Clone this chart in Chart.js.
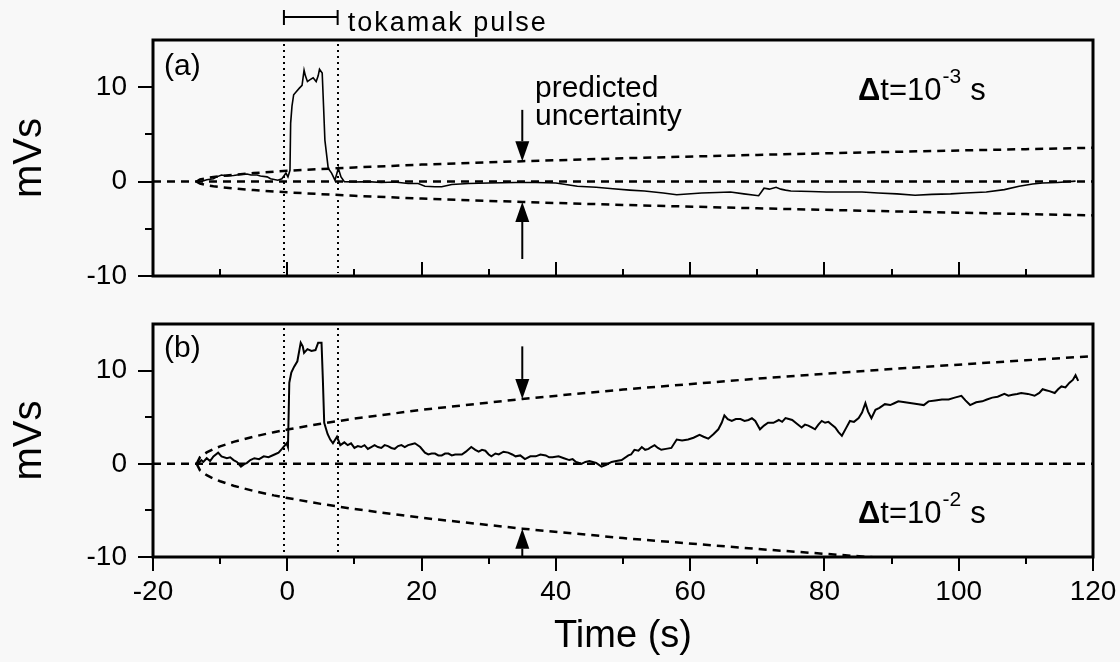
<!DOCTYPE html>
<html><head><meta charset="utf-8">
<script src="https://cdn.jsdelivr.net/npm/chart.js@4.4.0/dist/chart.umd.min.js"></script>
<style>
html,body{margin:0;padding:0;background:#f8f8f8;width:1120px;height:662px;overflow:hidden}
canvas{position:absolute;left:0}
#c1{top:0}#c2{top:300px}
</style></head>
<body>
<canvas id="c1" width="1120" height="300"></canvas>
<canvas id="c2" width="1120" height="362"></canvas>
<script>
// ---------------- data ----------------
const xTickValues = [-20, 0, 20, 40, 60, 80, 100, 120];
const yTickLabels = [-10, 0, 10];
const pulseStart = -0.5, pulseEnd = 7.5;

// panel (a): dt = 1e-3 s
const timeA = [-12.8,-12,-11,-10.5,-9.8,-9,-8,-7,-6,-5.4,
  -4.5,-4,-3,-2.5,-1.4,-0.8,-0.2,0.1,0.4,0.5,
  0.7,0.95,1.3,1.8,2.2,2.5,2.7,3.0,3.4,3.85,
  4.3,4.6,4.8,5.2,5.4,5.6,6.1,6.6,7.1,7.6,
  8.0,8.5,10,12,14,16,18,19.5,20.5,22,
  23,24.5,27,30,34,37,40,43.2,46,48.5,
  51,53.2,56,58,61.7,64,66,68,70.2,70.5,
  71,71.8,72.8,73.5,74.2,75,78,80.3,83,85.6,
  88,90.8,93.5,96,98.8,101,104.1,106.8,109,111,
  112.5,114.7,117.4];
const signalA = [0,0.2,0.3,0.5,0.7,0.6,0.65,0.75,0.8,0.7,
  0.7,0.6,0.5,0.3,0.15,0.3,0.9,0.5,1.2,6.2,
  8.0,9.2,9.5,9.9,10.2,11.8,11.2,10.6,10.8,11.0,
  10.6,11.2,11.9,11.5,8.0,4.4,1.4,0.9,0.15,1.4,
  0.5,0,-0.05,0,-0.1,-0.05,-0.2,-0.2,-0.5,-0.55,
  -0.55,-0.3,-0.2,-0.15,-0.1,-0.1,-0.15,-0.5,-0.6,-0.75,
  -0.9,-1.0,-1.2,-1.4,-1.2,-1.15,-1.1,-1.3,-1.5,-1.2,
  -0.7,-0.8,-0.6,-0.8,-0.9,-1.0,-1.05,-1.1,-1.1,-1.1,
  -1.2,-1.3,-1.45,-1.35,-1.3,-1.2,-1.1,-0.85,-0.5,-0.25,
  -0.15,-0.1,0.05];

// panel (b): dt = 1e-2 s
const timeB = [-13.3,-12.8,-12.5,-12,-11.5,-11,-10.3,-9.8,-9,-8.5,
  -8,-7.5,-6.9,-6.3,-6,-5.5,-4.9,-4.2,-3.5,-2.8,
  -1.9,-1.3,-0.8,-0.1,0.1,0.3,0.6,1.0,1.5,2.0,
  2.3,2.5,3.0,3.6,4.2,4.6,5.1,5.3,5.5,6.0,
  6.4,6.8,7.4,7.9,8.5,9,9.5,10,10.5,11,
  11.5,12,12.5,13,13.5,14,14.5,15,15.5,16,
  16.5,17,17.5,18,18.5,19,19.8,20.5,21,21.5,
  22,22.5,23,23.5,24,24.5,25,26,26.6,27.4,
  28,28.5,29,29.5,30,30.4,31,31.5,32.2,32.9,
  33.5,34,34.7,35.4,36.2,37,37.7,38.5,39,39.5,
  40.4,41.2,42,42.5,43,43.8,44.4,45,45.5,46,
  46.8,47.5,48.3,49,49.8,50.8,51.2,51.7,52.3,52.8,
  53.3,53.8,54.2,54.7,55.2,55.7,56.4,57.2,58,58.8,
  59.7,60.5,61.4,62,62.7,63.5,64.2,64.7,65.1,65.6,
  66.2,66.8,67.5,68.1,68.7,69.2,69.7,70.4,71,71.6,
  72.4,73.2,73.7,74.2,74.7,75.2,75.9,76.6,77.1,77.6,
  78.1,78.6,79.1,79.6,80.1,80.6,81.1,81.6,82.1,82.6,
  83.2,83.8,84.4,85.1,85.6,86.1,86.5,87,87.6,88.2,
  89,89.8,90.4,91,92,93,94,94.8,95.5,96.5,
  97.5,98.5,99.4,100.4,101,101.7,102.6,103.5,104.2,105,
  105.8,106.8,107.4,108,108.7,109.3,110.3,111.3,112,112.5,
  113,113.5,114.3,114.8,115.3,115.9,116.5,117,117.4,117.8];
const signalB = [0,0.4,0.2,0.6,0.3,0.8,1.2,0.8,0.6,0.7,
  0.4,0.2,-0.3,0.0,0.1,0.4,0.6,0.5,0.8,0.7,
  1.0,1.2,1.6,2.2,1.8,8.7,9.8,10.4,11.0,13.0,
  12.6,11.9,12.3,12.1,12.2,13.0,13.0,9.0,4.4,3.2,
  2.6,2.2,2.9,2.0,2.3,2.0,2.2,1.7,1.9,1.8,
  2.0,1.6,1.8,2.0,1.8,1.7,2.0,1.9,1.7,1.6,
  1.9,2.0,1.8,2.0,2.1,2.2,1.8,1.2,1.0,1.1,
  1.1,0.9,0.9,1.1,1.1,0.9,1.0,1.0,1.3,1.8,
  1.5,1.3,1.5,1.4,1.0,0.8,1.1,1.0,1.3,1.2,
  1.0,0.8,0.9,0.5,0.8,0.8,1.0,0.9,0.7,0.7,
  0.8,0.6,0.4,0.5,0.2,0,0.2,0.3,0.2,0.1,
  -0.3,-0.1,0.2,0.3,0.4,0.9,1.0,1.5,1.4,1.8,
  1.5,1.6,1.8,2.0,1.7,1.5,1.6,1.7,2.6,2.5,
  2.6,2.8,3.1,2.9,2.7,3.2,3.7,4.4,5.2,4.8,
  4.6,4.8,4.8,4.6,4.7,4.9,4.6,3.7,4.1,4.4,
  4.4,4.7,4.5,4.9,4.8,4.7,4.3,3.9,4.2,4.1,
  3.9,3.7,4.2,4.6,4.4,4.5,4.2,3.9,3.4,3.0,
  3.8,4.6,4.5,4.9,5.5,6.5,5.6,4.9,5.8,6.0,
  6.4,6.3,6.5,6.7,6.6,6.5,6.4,6.3,6.7,6.8,
  6.9,6.9,7.1,7.3,6.8,6.3,6.6,6.7,6.9,7.1,
  7.2,7.5,7.3,7.4,7.5,7.6,7.5,7.3,7.6,8.0,
  7.9,7.8,7.6,8.0,8.3,8.2,8.7,9.0,9.5,8.9];

// predicted uncertainty envelopes
const envTime = [-13.5,-13,-12,-11,-10,-8,-5,-2,0,5,10,20,35,50,70,90,110,120];
const envA = [0,0.22,0.38,0.49,0.58,0.73,0.90,1.05,1.14,1.33,1.50,1.80,2.16,2.47,2.83,3.15,3.44,3.58];
const envB = [0,0.71,1.22,1.58,1.87,2.35,2.92,3.39,3.67,4.30,4.85,5.79,6.96,7.97,9.14,10.17,11.11,11.55];

// ---------------- helpers ----------------
const NARROW = '"Liberation Sans Narrow", "Liberation Sans", Arial, sans-serif';
const SANS = '"Liberation Sans", Arial, sans-serif';
Chart.defaults.animation = false;
Chart.defaults.color = '#000';

function pts(xs, ys) { const n = Math.min(xs.length, ys.length); const o = []; for (let i = 0; i < n; i++) o.push({x: xs[i], y: ys[i]}); return o; }
function neg(ys) { return ys.map(v => -v); }
function noPad(s) { s.paddingLeft = 0; s.paddingRight = 0; s.paddingTop = 0; s.paddingBottom = 0; }

function line(ctx, x1, y1, x2, y2) { ctx.beginPath(); ctx.moveTo(x1, y1); ctx.lineTo(x2, y2); ctx.stroke(); }
function arrow(ctx, x, yFrom, yTip) {
  const dir = yTip > yFrom ? 1 : -1, hl = 20, hw = 7;
  ctx.lineWidth = 2;
  line(ctx, x, yFrom, x, yTip - dir * hl);
  ctx.beginPath(); ctx.moveTo(x, yTip); ctx.lineTo(x - hw, yTip - dir * hl); ctx.lineTo(x + hw, yTip - dir * hl); ctx.closePath(); ctx.fill();
}
function dtLabel(ctx, x, y, exp) {
  ctx.textAlign = 'left'; ctx.textBaseline = 'alphabetic';
  ctx.font = 'bold 31px ' + SANS; ctx.fillText('\u0394', x, y); x += ctx.measureText('\u0394').width;
  ctx.font = '31px ' + SANS; ctx.fillText('t=10', x, y); x += ctx.measureText('t=10').width + 1;
  ctx.font = '21px ' + SANS; ctx.fillText(exp, x, y - 17); x += ctx.measureText(exp).width + 9;
  ctx.font = '31px ' + SANS; ctx.fillText('s', x, y);
}

const annot = {
  id: 'annot',
  afterDatasetsDraw(chart, args, o) {
    const {ctx, chartArea: a, scales: {x, y}} = chart;
    ctx.save();
    ctx.strokeStyle = '#000'; ctx.fillStyle = '#000';
    // dotted pulse markers
    ctx.lineWidth = 2; ctx.setLineDash([2, 4]);
    for (const t of [pulseStart, pulseEnd]) { const px = Math.round(x.getPixelForValue(t)); line(ctx, px, a.top + 4, px, a.bottom - 3); }
    ctx.setLineDash([]);
    // frame
    ctx.lineWidth = 3; ctx.strokeRect(a.left, a.top, a.right - a.left, a.bottom - a.top);
    // y tick marks
    ctx.lineWidth = 2;
    for (let v = -10; v <= 10; v += 5) { const py = Math.round(y.getPixelForValue(v)); line(ctx, a.left - (v % 10 === 0 ? 15 : 8), py, a.left, py); }
    // x tick marks
    for (let t = -20; t <= 120; t += 10) {
      const px = Math.round(x.getPixelForValue(t)); const len = t % 20 === 0 ? 14 : 7;
      if (o.inside) line(ctx, px, a.bottom, px, a.bottom - len); else line(ctx, px, a.bottom, px, a.bottom + len);
    }
    // arrows
    const ax = x.getPixelForValue(o.arrowT);
    arrow(ctx, ax, y.getPixelForValue(o.downFrom), y.getPixelForValue(o.envAt));
    arrow(ctx, ax, y.getPixelForValue(o.upFrom), y.getPixelForValue(-o.envAt));
    // texts
    ctx.textAlign = 'left'; ctx.textBaseline = 'alphabetic';
    ctx.font = '30px ' + SANS; ctx.fillText(o.tag, a.left + 11, o.tagY);
    dtLabel(ctx, 858, o.dtY, o.exp);
    if (o.pulse) {
      const p1 = x.getPixelForValue(pulseStart), p2 = x.getPixelForValue(pulseEnd);
      ctx.lineWidth = 2; line(ctx, p1, 17, p2, 17); line(ctx, p1, 10, p1, 25); line(ctx, p2, 10, p2, 25);
      ctx.font = '27px ' + SANS; ctx.letterSpacing = '2px'; ctx.fillText('tokamak pulse', p2 + 10, 31);
      ctx.letterSpacing = '0px';
      ctx.font = '30px ' + SANS; ctx.fillText('predicted', 535, 97); ctx.fillText('uncertainty', 535, 125);
    }
    ctx.restore();
  }
};

function datasets(tArr, sArr, env, sigWidth) {
  const dash = {borderColor: '#000', borderWidth: 2.5, borderDash: [8, 6], pointRadius: 0, fill: false, tension: 0};
  return [
    {data: pts(tArr, sArr), borderColor: '#000', borderWidth: sigWidth, pointRadius: 0, fill: false, tension: 0},
    Object.assign({data: pts(envTime, env)}, dash),
    Object.assign({data: pts(envTime, neg(env))}, dash),
    Object.assign({data: [{x: -20, y: 0}, {x: 120, y: 0}]}, dash)
  ];
}

function yScale() {
  return {
    type: 'linear', min: -10, max: 15,
    grid: {display: false, drawTicks: false}, border: {display: false},
    ticks: {stepSize: 5, padding: 26, font: {family: NARROW, size: 28}, color: '#000',
      callback: v => yTickLabels.includes(v) ? String(v) : ''},
    title: {display: true, text: 'mVs', font: {family: NARROW, size: 40}, color: '#000', padding: {top: 6, bottom: 0}},
    afterFit: s => { s.width = 153; noPad(s); }
  };
}

new Chart(document.getElementById('c1'), {
  type: 'line',
  data: {datasets: datasets(timeA, signalA, envA, 1.6)},
  options: {
    responsive: false, parsing: false,
    layout: {padding: {top: 40, right: 27, left: 0, bottom: 0}},
    plugins: {legend: {display: false}, tooltip: {enabled: false},
      annot: {inside: true, arrowT: 35, downFrom: 7.6, upFrom: -8.2, envAt: envA[envTime.indexOf(35)], tag: '(a)', tagY: 75, dtY: 100, exp: '-3', pulse: true}},
    scales: {
      x: {type: 'linear', min: -20, max: 120, grid: {display: false, drawTicks: false}, border: {display: false}, ticks: {display: false},
        afterFit: s => { s.height = 24; noPad(s); }},
      y: yScale()
    }
  },
  plugins: [annot]
});

new Chart(document.getElementById('c2'), {
  type: 'line',
  data: {datasets: datasets(timeB, signalB, envB, 2)},
  options: {
    responsive: false, parsing: false,
    layout: {padding: {top: 24, right: 27, left: 0, bottom: 3}},
    plugins: {legend: {display: false}, tooltip: {enabled: false},
      annot: {inside: false, arrowT: 35, downFrom: 12.6, upFrom: -10, envAt: envB[envTime.indexOf(35)], tag: '(b)', tagY: 57, dtY: 223, exp: '-2', pulse: false}},
    scales: {
      x: {type: 'linear', min: -20, max: 120, grid: {display: false, drawTicks: false}, border: {display: false},
        ticks: {stepSize: 20, padding: 18, font: {family: NARROW, size: 28}, color: '#000', callback: v => xTickValues.includes(v) ? String(v) : ''},
        title: {display: true, text: 'Time (s)', font: {family: SANS, size: 38}, color: '#000', padding: {top: 0, bottom: 0}},
        afterFit: s => { s.height = 102; noPad(s); }},
      y: yScale()
    }
  },
  plugins: [annot]
});
</script>
</body></html>
